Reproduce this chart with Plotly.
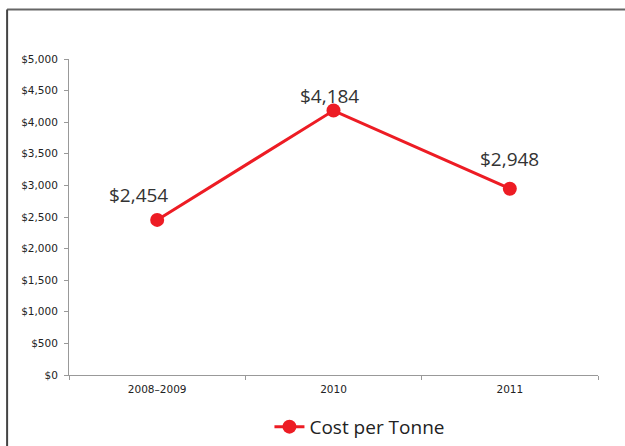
import plotly.graph_objects as go

categories = ["2008–2009", "2010", "2011"]
cost_per_tonne = [2454, 4184, 2948]
value_labels = ["$2,454", "$4,184", "$2,948"]
label_shift_x = [-19, -4, 0]
label_shift_y = [25, 15, 30]
y_ticks = [0, 500, 1000, 1500, 2000, 2500, 3000, 3500, 4000, 4500, 5000]
y_tick_labels = ["$0", "$500", "$1,000", "$1,500", "$2,000", "$2,500", "$3,000",
                 "$3,500", "$4,000", "$4,500", "$5,000"]

RED = "#ED1C24"

fig = go.Figure()
fig.add_trace(go.Scatter(
    x=categories, y=cost_per_tonne, mode="lines+markers", name="Cost per Tonne",
    line=dict(color=RED, width=3), marker=dict(color=RED, size=14),
))

for i, (v, t, dx, dy) in enumerate(zip(cost_per_tonne, value_labels, label_shift_x, label_shift_y)):
    fig.add_annotation(x=i, y=v, text=t, showarrow=False, xshift=dx, yshift=dy,
                       font=dict(family="Open Sans", size=19, color="#333333"))

# outer frame lines (top and left)
fig.add_shape(type="line", xref="paper", yref="paper", x0=-0.117, x1=1.1, y0=1.157, y1=1.157,
              line=dict(color="#666666", width=2))
fig.add_shape(type="line", xref="paper", yref="paper", x0=-0.117, x1=-0.117, y0=1.157, y1=-0.3,
              line=dict(color="#444444", width=2))

fig.update_layout(
    width=625, height=446,
    margin=dict(l=69, r=27, t=59, b=71),
    paper_bgcolor="white", plot_bgcolor="white",
    showlegend=True,
    legend=dict(orientation="h", xref="paper", x=0.55, xanchor="center",
                yref="container", y=0.043, yanchor="middle",
                font=dict(family="Open Sans", size=19, color="#222222")),
    xaxis=dict(type="category", range=[-0.5, 2.5], showline=True, linecolor="#999999",
               linewidth=1, ticks="outside", tickson="boundaries", ticklen=4,
               tickcolor="#999999", showgrid=False, automargin=False,
               ticklabelstandoff=4,
               tickfont=dict(family="DejaVu Sans", size=10.5, color="#222222")),
    yaxis=dict(range=[0, 5000], tickvals=y_ticks, ticktext=y_tick_labels,
               showline=True, linecolor="#999999", linewidth=1, ticks="outside",
               ticklen=4, tickcolor="#999999", showgrid=False, zeroline=False,
               automargin=False, ticklabelstandoff=4,
               tickfont=dict(family="DejaVu Sans", size=10.5, color="#222222")),
)

fig.write_html("out.html", config={"displayModeBar": False},
               post_script="document.body.style.margin='0';")
